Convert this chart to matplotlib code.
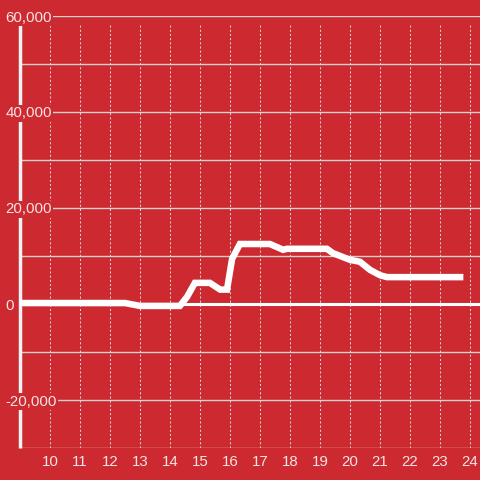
"""Hourly line on red background."""
import matplotlib
matplotlib.use('Agg')
import matplotlib.pyplot as plt
import numpy as np

plt.rcParams['font.family'] = ['Liberation Sans', 'DejaVu Sans']

# Data
hours = [9.0, 12.5, 13.0, 14.33, 14.57, 14.83, 15.33, 15.67, 15.9, 16.07,
         16.33, 17.33, 17.77, 17.9, 19.23, 19.43, 20.0, 20.33, 20.67, 21.0,
         21.23, 23.67]
values = [200, 200, -400, -400, 1500, 4400, 4400, 3000, 3000, 9400,
          12500, 12500, 11300, 11500, 11500, 10600, 9200, 8800, 7100, 6000,
          5600, 5600]
xticks = list(range(10, 25))
yticks = [-30000, -20000, -10000, 0, 10000, 20000, 30000, 40000, 50000, 60000]
ylabels = ['', '-20,000', '', '0', '', '20,000', '', '40,000', '', '60,000']

bg = '#cc2a30'
txt = '#f7e4e4'
grid = '#d9d0d0'

fig = plt.figure(figsize=(4.8, 4.8), dpi=100, facecolor=bg)
ax = fig.add_axes([20 / 480, 32 / 480, 460 / 480, 432 / 480])
ax.set_facecolor(bg)
ax.set_xlim(9, 24.333)
ax.set_ylim(-30000, 60000)

# grid drawn by hand so tick labels can sit on top of it
for y in yticks:
    ax.axhline(y, color=grid, lw=1, zorder=1)
ax.axhline(0, color='white', lw=2.2, zorder=1.2)
ax.vlines(xticks, -30000, 58333, colors=grid, lw=0.75,
          linestyles=(0, (2, 2)), zorder=1)
ax.plot([9, 9], [-30000, 58333], color='#f2f2f2', lw=2.5, zorder=1.3,
        clip_on=False, solid_capstyle='butt')

ax.plot(hours, values, color='white', lw=4.7, zorder=3,
        solid_joinstyle='miter')

for s in ax.spines.values():
    s.set_visible(False)
ax.set_axisbelow(False)

ax.set_xticks(xticks)
ax.set_xticklabels([str(h) for h in xticks])
ax.set_yticks(yticks)
ax.set_yticklabels(ylabels)
ax.tick_params(axis='both', length=0, labelsize=10.8, labelcolor=txt)
ax.tick_params(axis='x', pad=5)
ax.tick_params(axis='y', pad=10.5)
for lab in ax.get_yticklabels():
    lab.set_horizontalalignment('left')
    lab.set_bbox(dict(facecolor=bg, edgecolor='none', pad=1.0))

fig.savefig('out.png', dpi=100, facecolor=bg)
